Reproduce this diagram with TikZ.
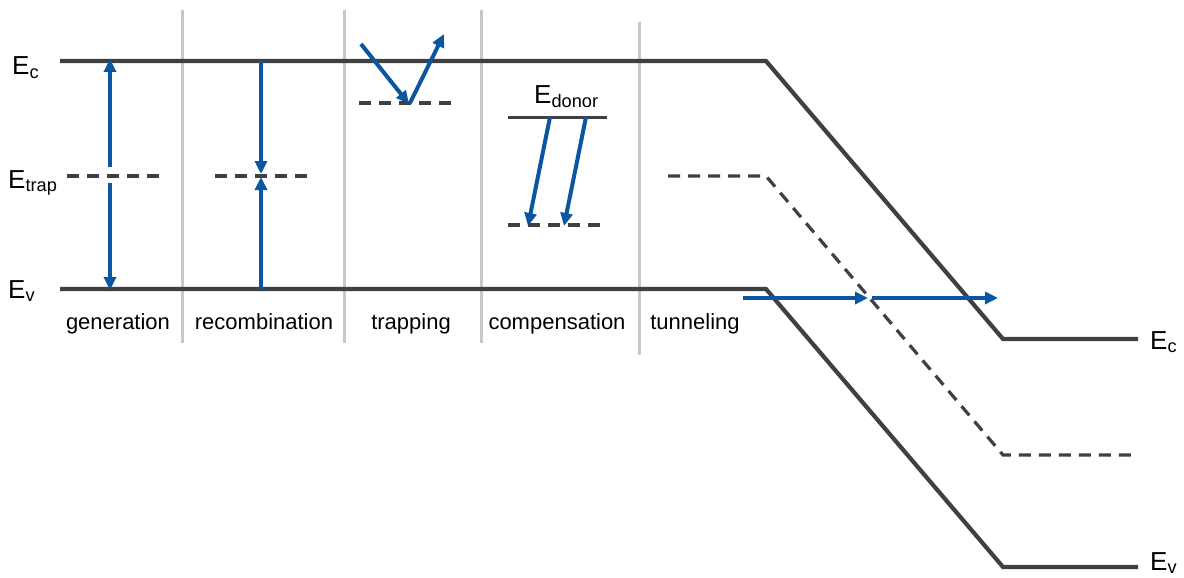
\documentclass[tikz,border=0pt]{standalone}
\usepackage{fontspec}
\setmainfont{Liberation Sans}
\usetikzlibrary{arrows.meta}
\definecolor{band}{HTML}{404040}
\definecolor{arr}{HTML}{0A56A0}
\definecolor{sep}{HTML}{C8C8C8}
\begin{document}
\begin{tikzpicture}[x=1pt,y=-1pt,
  bandline/.style={band,line width=4.2pt},
  trapline/.style={band,line width=3.2pt,dash pattern=on 12pt off 8pt},
  thinline/.style={band,line width=3pt},
  sepline/.style={sep,line width=3pt},
  bluearrow/.style={arr,line width=4pt,-{Triangle[length=13pt,width=12pt]}},
  lbl/.style={inner sep=0pt,anchor=base,font=\fontsize{22}{24}\selectfont},
  elbl/.style={inner sep=0pt,anchor=base west,font=\fontsize{26}{28}\selectfont}]
\useasboundingbox (0,0) rectangle (1184,578);
% coordinates
\coordinate (cL) at (60,61);  \coordinate (cK) at (766,61);
\coordinate (cB) at (1003,339); \coordinate (cR) at (1138,339);
\coordinate (vL) at (60,289);  \coordinate (vK) at (766,289);
\coordinate (vB) at (1003,567); \coordinate (vR) at (1138,567);
\coordinate (tL) at (668,176); \coordinate (tK) at (766,176);
\coordinate (tB) at (1003,455); \coordinate (tR) at (1138,455);
% separators
\foreach \n/\x/\a/\b in {s1/182/10/343, s2/344/10/343, s3/481/10/343, s4/639/22/355}{
  \coordinate (\n t) at (\x,\a); \coordinate (\n b) at (\x,\b);
  \draw[sepline] (\n t) -- (\n b);}
% bands
\draw[bandline,line join=miter] (cL) -- (cK) -- (cB) -- (cR);
\draw[bandline,line join=miter] (vL) -- (vK) -- (vB) -- (vR);
\draw[trapline] (tL) -- (tK) -- (tB) -- (tR);
% generation
\coordinate (g1a) at (67,176); \coordinate (g1b) at (159,176);
\draw[trapline] (g1a) -- (g1b);
\coordinate (gu0) at (110,167); \coordinate (gu1) at (110,59);
\coordinate (gd0) at (110,183); \coordinate (gd1) at (110,290);
\draw[bluearrow] (gu0) -- (gu1);
\draw[bluearrow] (gd0) -- (gd1);
% recombination
\coordinate (r1a) at (215,176); \coordinate (r1b) at (307,176);
\draw[trapline] (r1a) -- (r1b);
\coordinate (rd0) at (261,61); \coordinate (rd1) at (261,174);
\coordinate (ru0) at (261,289); \coordinate (ru1) at (261,177);
\draw[bluearrow] (rd0) -- (rd1);
\draw[bluearrow] (ru0) -- (ru1);
% trapping
\coordinate (p1a) at (359,103); \coordinate (p1b) at (451,103);
\draw[trapline] (p1a) -- (p1b);
\coordinate (pa0) at (361,44); \coordinate (pa1) at (409,104);
\coordinate (pb0) at (410,103); \coordinate (pb1) at (444,34);
\draw[bluearrow] (pa0) -- (pa1);
\draw[bluearrow] (pb0) -- (pb1);
% compensation
\coordinate (d1a) at (508,117); \coordinate (d1b) at (607,117);
\draw[thinline] (d1a) -- (d1b);
\coordinate (d2a) at (508,225); \coordinate (d2b) at (600,225);
\draw[trapline] (d2a) -- (d2b);
\coordinate (ca0) at (550,117); \coordinate (ca1) at (528,226);
\coordinate (cb0) at (586,117); \coordinate (cb1) at (564,226);
\draw[bluearrow] (ca0) -- (ca1);
\draw[bluearrow] (cb0) -- (cb1);
% tunneling
\coordinate (ta0) at (743,298); \coordinate (ta1) at (868,298);
\coordinate (tb0) at (872,298); \coordinate (tb1) at (998,298);
\draw[bluearrow] (ta0) -- (ta1);
\draw[bluearrow] (tb0) -- (tb1);
% labels
\node[lbl] (Lgen) at (118,329) {generation};
\node[lbl] (Lrec) at (264,329) {recombination};
\node[lbl] (Ltrp) at (411,329) {trapping};
\node[lbl] (Lcmp) at (557,329) {compensation};
\node[lbl] (Ltun) at (695,329) {tunneling};
\node[elbl] (Ec1) at (12,75) {E\textsubscript{c}};
\node[elbl] (Et1) at (8,188) {E\textsubscript{trap}};
\node[elbl] (Ev1) at (8,298) {E\textsubscript{v}};
\node[elbl] (Ec2) at (1150,349) {E\textsubscript{c}};
\node[elbl] (Ev2) at (1150,570) {E\textsubscript{v}};
\node[elbl] (Ed) at (534,103) {E\textsubscript{donor}};
\end{tikzpicture}
\end{document}
